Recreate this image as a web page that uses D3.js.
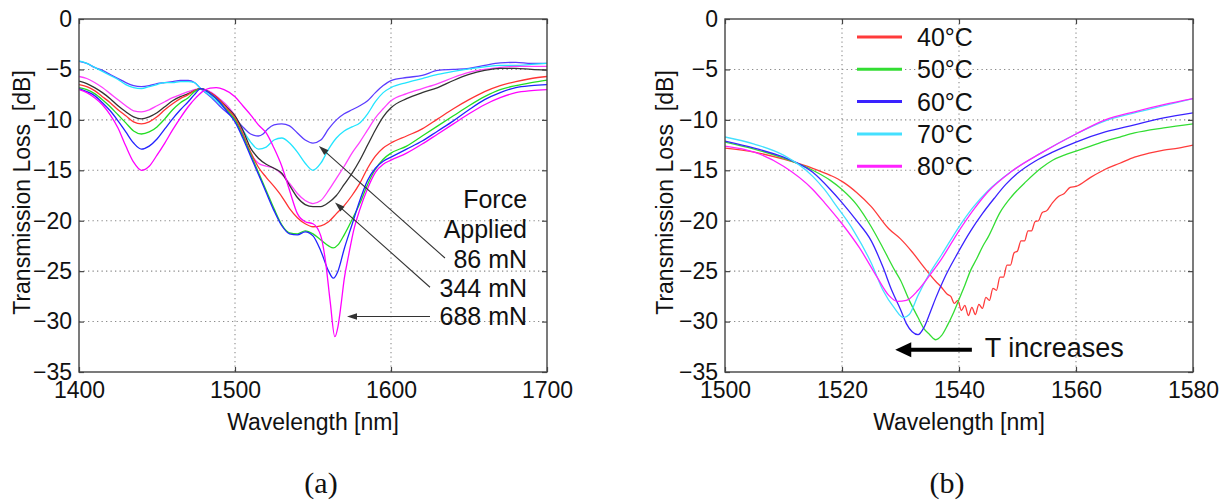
<!DOCTYPE html>
<html>
<head>
<meta charset="utf-8">
<script src="https://cdn.jsdelivr.net/npm/d3@7"></script>
<style>
  body { margin: 0; background: #fff; }
  svg { display: block; font-family: "Liberation Sans", Arial, Helvetica, sans-serif; }
</style>
</head>
<body>
<svg id="fig" width="1229" height="504"></svg>
<script>
// ---------- Panel (a): transmission loss vs wavelength under applied force ----------
const forceTicksX = [1400, 1500, 1600, 1700];
const lossTicksY = [0, -5, -10, -15, -20, -25, -30, -35];

// [wavelength nm, loss dB]
const force86 = [[1400,-4.2],[1405,-4.4],[1410,-4.8],[1415,-5.1],[1420,-5.5],[1425,-5.9],[1430,-6.3],[1435,-6.6],[1440,-6.7],[1445,-6.6],[1450,-6.4],[1455,-6.3],[1460,-6.2],[1465,-6.1],[1470,-6.1],[1474,-6.3],[1478,-6.9],[1485,-7.8],[1490,-8.6],[1495,-9.3],[1500,-9.9],[1505,-10.7],[1510,-11.4],[1515,-11.6],[1518,-11.4],[1521,-10.9],[1525,-10.5],[1530,-10.4],[1535,-10.6],[1540,-11.3],[1545,-12.0],[1550,-12.3],[1555,-12.0],[1560,-10.9],[1565,-10.0],[1570,-9.4],[1575,-9.0],[1580,-8.6],[1585,-8.1],[1590,-7.3],[1595,-6.6],[1600,-6.1],[1610,-5.8],[1620,-5.6],[1630,-5.1],[1640,-5.0],[1650,-4.9],[1660,-4.6],[1670,-4.35],[1680,-4.3],[1690,-4.4],[1700,-4.4]];
const force172 = [[1400,-4.15],[1405,-4.4],[1410,-4.8],[1415,-5.2],[1420,-5.6],[1425,-6.0],[1430,-6.5],[1435,-6.8],[1440,-6.9],[1445,-6.7],[1450,-6.5],[1455,-6.3],[1460,-6.3],[1465,-6.2],[1470,-6.2],[1474,-6.3],[1478,-6.9],[1485,-7.7],[1490,-8.4],[1495,-9.1],[1500,-9.7],[1505,-11.0],[1510,-12.2],[1515,-12.9],[1520,-12.7],[1525,-12.0],[1530,-11.8],[1535,-12.3],[1540,-13.2],[1545,-14.3],[1550,-15.0],[1555,-14.3],[1560,-12.9],[1565,-11.8],[1570,-11.1],[1575,-10.7],[1580,-10.3],[1585,-9.4],[1590,-8.2],[1595,-7.3],[1600,-6.8],[1610,-6.3],[1620,-5.9],[1630,-5.5],[1640,-5.2],[1650,-4.95],[1660,-4.75],[1670,-4.6],[1680,-4.6],[1690,-4.5],[1700,-4.4]];
const force258 = [[1400,-5.7],[1405,-5.9],[1410,-6.3],[1415,-6.8],[1420,-7.4],[1425,-8.0],[1430,-8.6],[1435,-9.1],[1440,-9.2],[1445,-9.0],[1450,-8.6],[1455,-8.2],[1460,-7.8],[1465,-7.5],[1470,-7.2],[1474,-7.0],[1478,-6.9],[1485,-7.3],[1490,-7.9],[1495,-8.6],[1500,-9.6],[1505,-11.3],[1510,-13.3],[1515,-14.3],[1520,-14.6],[1525,-14.8],[1530,-15.4],[1535,-16.3],[1540,-17.3],[1545,-18.0],[1550,-18.3],[1555,-18.0],[1560,-17.0],[1565,-15.8],[1570,-14.6],[1575,-13.3],[1580,-12.2],[1585,-11.0],[1590,-9.8],[1595,-8.9],[1600,-8.1],[1610,-7.4],[1620,-6.9],[1630,-6.4],[1640,-5.8],[1650,-5.3],[1660,-5.0],[1670,-4.8],[1680,-4.7],[1690,-4.7],[1700,-4.7]];
const force344 = [[1400,-6.15],[1405,-6.4],[1410,-6.8],[1415,-7.3],[1420,-7.9],[1425,-8.6],[1430,-9.2],[1435,-9.7],[1440,-9.9],[1445,-9.7],[1450,-9.3],[1455,-8.7],[1460,-8.1],[1465,-7.7],[1470,-7.4],[1474,-7.1],[1478,-6.9],[1485,-7.4],[1490,-8.0],[1495,-8.8],[1500,-9.6],[1505,-11.0],[1510,-12.8],[1515,-13.8],[1520,-14.4],[1525,-14.8],[1530,-15.3],[1535,-16.5],[1540,-17.7],[1545,-18.4],[1550,-18.6],[1555,-18.6],[1560,-18.2],[1565,-17.5],[1570,-16.4],[1575,-15.3],[1580,-14.0],[1585,-12.5],[1590,-11.0],[1595,-9.7],[1600,-8.8],[1610,-7.9],[1620,-7.3],[1630,-6.8],[1640,-6.1],[1650,-5.5],[1660,-5.1],[1670,-4.9],[1680,-4.9],[1690,-5.0],[1700,-5.06]];
const force430 = [[1400,-6.5],[1405,-6.7],[1410,-7.1],[1415,-7.7],[1420,-8.3],[1425,-9.0],[1430,-9.6],[1435,-10.2],[1440,-10.4],[1445,-10.2],[1450,-9.7],[1455,-9.0],[1460,-8.4],[1465,-7.9],[1470,-7.5],[1474,-7.1],[1478,-6.9],[1485,-7.4],[1490,-8.0],[1495,-8.9],[1500,-9.8],[1505,-11.4],[1510,-13.2],[1515,-14.7],[1520,-15.7],[1525,-16.6],[1530,-17.6],[1535,-18.8],[1540,-19.7],[1545,-20.3],[1550,-20.6],[1555,-20.5],[1560,-20.1],[1565,-19.3],[1570,-18.5],[1575,-17.5],[1580,-16.3],[1585,-14.8],[1590,-13.6],[1595,-12.8],[1600,-12.3],[1610,-11.6],[1620,-10.9],[1630,-9.9],[1640,-8.9],[1650,-8.0],[1660,-7.2],[1670,-6.6],[1680,-6.2],[1690,-5.9],[1700,-5.7]];
const force516 = [[1400,-6.8],[1405,-7.0],[1410,-7.4],[1415,-8.0],[1420,-8.7],[1425,-9.5],[1430,-10.3],[1435,-11.1],[1440,-11.4],[1445,-11.2],[1450,-10.7],[1455,-9.9],[1460,-9.0],[1465,-8.3],[1470,-7.8],[1474,-7.2],[1478,-6.9],[1485,-7.5],[1490,-8.2],[1495,-9.1],[1500,-10.0],[1505,-11.6],[1510,-13.4],[1515,-15.2],[1520,-17.0],[1525,-18.8],[1530,-20.4],[1535,-21.2],[1540,-21.3],[1545,-21.0],[1550,-21.3],[1555,-21.9],[1560,-22.5],[1563,-22.7],[1566,-22.4],[1570,-21.4],[1575,-19.9],[1580,-18.3],[1585,-16.4],[1590,-14.9],[1595,-13.9],[1600,-13.3],[1610,-12.6],[1620,-11.6],[1630,-10.6],[1640,-9.6],[1650,-8.6],[1660,-7.7],[1670,-7.0],[1680,-6.6],[1690,-6.3],[1700,-6.05]];
const force602 = [[1400,-6.9],[1405,-7.2],[1410,-7.6],[1415,-8.3],[1420,-9.1],[1425,-10.1],[1430,-11.2],[1435,-12.3],[1440,-12.9],[1445,-12.6],[1450,-11.9],[1455,-10.9],[1460,-9.9],[1465,-9.0],[1470,-8.2],[1474,-7.5],[1478,-6.9],[1485,-7.5],[1490,-8.2],[1495,-9.2],[1500,-10.2],[1505,-11.8],[1510,-13.6],[1515,-15.4],[1520,-17.2],[1525,-19.0],[1530,-20.5],[1535,-21.3],[1540,-21.4],[1545,-21.1],[1550,-21.5],[1555,-23.0],[1560,-25.0],[1563,-25.7],[1566,-25.0],[1570,-22.8],[1575,-20.4],[1580,-18.0],[1585,-16.0],[1590,-14.8],[1595,-14.1],[1600,-13.7],[1610,-12.9],[1620,-12.1],[1630,-11.1],[1640,-10.1],[1650,-9.0],[1660,-8.0],[1670,-7.3],[1680,-6.8],[1690,-6.6],[1700,-6.5]];
const force688 = [[1400,-7.0],[1405,-7.3],[1410,-7.8],[1415,-8.5],[1420,-9.5],[1425,-10.8],[1430,-12.6],[1435,-14.2],[1440,-15.0],[1445,-14.6],[1450,-13.5],[1455,-12.3],[1460,-11.0],[1465,-9.8],[1470,-8.7],[1475,-7.8],[1480,-7.1],[1484,-6.85],[1488,-6.8],[1493,-7.0],[1500,-7.7],[1505,-8.6],[1510,-9.5],[1515,-10.5],[1520,-11.3],[1525,-12.8],[1530,-14.6],[1535,-17.0],[1540,-19.3],[1545,-20.1],[1550,-20.3],[1555,-21.5],[1558,-24.0],[1561,-28.0],[1564,-31.5],[1566,-30.5],[1568,-28.3],[1570,-25.8],[1573,-23.3],[1576,-21.0],[1580,-18.9],[1585,-16.8],[1590,-15.2],[1595,-14.4],[1600,-14.0],[1610,-13.3],[1620,-12.4],[1630,-11.4],[1640,-10.4],[1650,-9.4],[1660,-8.5],[1670,-7.8],[1680,-7.3],[1690,-7.1],[1700,-7.0]];

const forceSeries = [force86, force172, force258, force344, force430, force516, force602, force688];
const forceColors = ["#5b3cff", "#22e5ff", "#ff40ff", "#333333", "#ff3333", "#22dd22", "#2222ff", "#ff00ff"];
const forceLabels = ["Force", "Applied", "86 mN", "344 mN", "688 mN"];

// ---------- Panel (b): transmission loss vs wavelength at several temperatures ----------
const tempTicksX = [1500, 1520, 1540, 1560, 1580];

const temp40 = [[1500,-12.8],[1505,-13.2],[1510,-13.9],[1515,-14.8],[1518,-15.5],[1520,-16.1],[1522.5,-17.2],[1525,-18.6],[1528,-20.8],[1530,-21.8],[1532,-23.1],[1534,-24.6],[1536,-26.0],[1537,-26.6],[1538,-27.3],[1538.6,-27.5],[1539.2,-28.2],[1539.8,-27.9],[1540.4,-28.9],[1541,-28.4],[1541.6,-29.4],[1542.2,-28.6],[1542.8,-29.3],[1543.4,-28.3],[1544,-28.7],[1544.6,-27.6],[1545.2,-27.9],[1545.8,-26.7],[1546.4,-26.9],[1547,-25.6],[1547.6,-25.6],[1548.2,-24.4],[1548.8,-24.4],[1549.4,-23.2],[1550,-23.0],[1550.6,-22.0],[1551.2,-22.0],[1551.8,-21.0],[1552.4,-21.0],[1553,-20.1],[1553.6,-20.0],[1554.2,-19.2],[1555,-19.0],[1556,-18.2],[1557,-17.6],[1558,-17.3],[1559,-16.7],[1560,-16.6],[1562.5,-15.7],[1565,-14.9],[1567.5,-14.3],[1570,-13.7],[1572.5,-13.3],[1575,-13.0],[1577.5,-12.8],[1580,-12.5]];
const temp50 = [[1500,-12.2],[1505,-12.9],[1510,-13.8],[1515,-15.0],[1518,-16.0],[1520,-16.9],[1522.5,-18.4],[1525,-20.6],[1527,-22.7],[1529,-24.9],[1530,-25.9],[1531.5,-27.9],[1533,-29.6],[1534,-30.7],[1535,-31.3],[1536,-31.8],[1537,-31.4],[1538,-30.4],[1539,-29.2],[1540,-27.8],[1541,-26.4],[1542,-24.9],[1543,-23.8],[1544,-22.6],[1545,-21.6],[1547,-19.2],[1549,-17.6],[1551.5,-16.1],[1554,-14.8],[1556,-14.0],[1558,-13.5],[1560,-13.1],[1562.5,-12.6],[1565,-12.1],[1567.5,-11.7],[1570,-11.3],[1575,-10.8],[1580,-10.4]];
const temp60 = [[1500,-12.1],[1505,-12.8],[1510,-13.7],[1515,-15.2],[1518,-16.9],[1520,-18.2],[1522.5,-20.0],[1525,-22.0],[1527,-24.6],[1528.5,-26.9],[1530,-28.8],[1531,-30.2],[1532,-31.0],[1533,-31.3],[1534,-30.6],[1535,-29.2],[1536,-27.7],[1537.5,-25.7],[1539.5,-23.5],[1542,-21.0],[1544,-19.3],[1546,-17.8],[1548,-16.4],[1550,-15.3],[1553,-14.1],[1556,-13.2],[1560,-12.2],[1565,-11.2],[1570,-10.5],[1575,-9.8],[1580,-9.3]];
const temp70 = [[1500,-11.7],[1505,-12.4],[1510,-13.5],[1515,-15.6],[1517,-16.9],[1519,-18.5],[1522,-21.0],[1525,-24.2],[1527,-26.9],[1529,-28.7],[1530.5,-29.6],[1531.5,-29.3],[1533,-27.4],[1535,-25.2],[1537,-23.4],[1540,-20.6],[1542.5,-18.6],[1545,-17.0],[1549,-15.1],[1554,-13.3],[1560,-11.4],[1565,-10.1],[1570,-9.3],[1575,-8.6],[1580,-7.9]];
const temp80 = [[1500,-12.6],[1505,-13.2],[1510,-14.6],[1515,-16.9],[1517,-18.2],[1520,-20.3],[1523,-22.7],[1526,-25.6],[1528,-27.4],[1529.5,-28.0],[1531,-27.9],[1533,-26.9],[1535,-25.4],[1537,-23.8],[1540,-21.0],[1542.5,-18.9],[1545,-17.1],[1549,-15.1],[1554,-13.3],[1560,-11.4],[1565,-10.0],[1570,-9.2],[1575,-8.5],[1580,-7.9]];

const tempSeries = [temp40, temp50, temp60, temp70, temp80];
const tempColors = ["#ff3b3b", "#33dd33", "#3a22ff", "#44e0ff", "#ff22ff"];
const tempLabels = ["40\u00B0C", "50\u00B0C", "60\u00B0C", "70\u00B0C", "80\u00B0C"];

// ---------- drawing ----------
const svg = d3.select("#fig");
svg.append("rect").attr("width", 1229).attr("height", 504).attr("fill", "#fff");

const TICK_FONT = 23;
const PLOT_H = 353, PLOT_W = 468, PLOT_TOP = 19;

function drawArrow(g, x1, y1, x2, y2, opt) {
  // shaft from (x1,y1) to tip (x2,y2) with a filled triangular head
  const dx = x2 - x1, dy = y2 - y1, len = Math.hypot(dx, dy);
  const ux = dx / len, uy = dy / len;
  const bx = x2 - ux * opt.head, by = y2 - uy * opt.head;
  g.append("line")
    .attr("x1", x1).attr("y1", y1).attr("x2", bx + ux * 1).attr("y2", by + uy * 1)
    .attr("stroke", opt.color).attr("stroke-width", opt.width);
  const px = -uy, py = ux;
  g.append("path")
    .attr("d", `M${x2},${y2}L${bx + px * opt.half},${by + py * opt.half}L${bx - px * opt.half},${by - py * opt.half}Z`)
    .attr("fill", opt.color);
}

function drawPanel(cfg) {
  const g = svg.append("g").attr("transform", `translate(${cfg.left},${PLOT_TOP})`);
  const x = d3.scaleLinear().domain(cfg.xDomain).range([0, PLOT_W]);
  const y = d3.scaleLinear().domain([0, -35]).range([0, PLOT_H]);

  // dotted grid
  const grid = g.append("g").attr("stroke", "#8a8a8a").attr("stroke-width", 1.1)
    .attr("stroke-dasharray", "1.3,3.2");
  cfg.xTicks.slice(1, -1).forEach(v => grid.append("line")
    .attr("x1", x(v)).attr("x2", x(v)).attr("y1", 0).attr("y2", PLOT_H));
  lossTicksY.slice(1, -1).forEach(v => grid.append("line")
    .attr("x1", 0).attr("x2", PLOT_W).attr("y1", y(v)).attr("y2", y(v)));

  // data curves
  const clipId = "clip-" + cfg.name;
  g.append("clipPath").attr("id", clipId).append("rect")
    .attr("width", PLOT_W).attr("height", PLOT_H);
  const line = d3.line().x(d => x(d[0])).y(d => y(d[1])).curve(d3.curveMonotoneX);
  const curves = g.append("g").attr("clip-path", `url(#${clipId})`);
  cfg.series.forEach((s, i) => curves.append("path")
    .attr("d", line(s)).attr("fill", "none")
    .attr("stroke", cfg.colors[i]).attr("stroke-width", 1.3)
    .attr("stroke-linejoin", "round"));

  // axes with inward ticks on all four sides
  const styleAxis = sel => {
    sel.select(".domain").remove();
    sel.selectAll(".tick line").attr("stroke", "#444").attr("stroke-width", 1.2);
    sel.selectAll(".tick text").attr("fill", "#111").attr("font-size", TICK_FONT)
      .attr("font-family", "Liberation Sans, Arial, sans-serif");
  };
  g.append("g").attr("transform", `translate(0,${PLOT_H})`)
    .call(d3.axisBottom(x).tickValues(cfg.xTicks).tickFormat(d3.format("d")).tickSizeInner(-5).tickSizeOuter(0).tickPadding(10))
    .call(styleAxis);
  g.append("g")
    .call(d3.axisLeft(y).tickValues(lossTicksY).tickFormat(d3.format("d")).tickSizeInner(-5).tickSizeOuter(0).tickPadding(7))
    .call(styleAxis);
  g.append("g")
    .call(d3.axisTop(x).tickValues(cfg.xTicks).tickFormat("").tickSizeInner(-5).tickSizeOuter(0))
    .call(styleAxis);
  g.append("g").attr("transform", `translate(${PLOT_W},0)`)
    .call(d3.axisRight(y).tickValues(lossTicksY).tickFormat("").tickSizeInner(-5).tickSizeOuter(0))
    .call(styleAxis);

  // frame
  g.append("rect").attr("width", PLOT_W).attr("height", PLOT_H)
    .attr("fill", "none").attr("stroke", "#444").attr("stroke-width", 1.4);

  // axis titles
  g.append("text").attr("x", PLOT_W / 2).attr("y", 411).attr("text-anchor", "middle")
    .attr("font-size", 23).attr("fill", "#111").text("Wavelength [nm]");
  g.append("text")
    .attr("transform", `translate(${cfg.yTitleX},${PLOT_H / 2 - 3}) rotate(-90)`)
    .attr("text-anchor", "middle").attr("font-size", 23).attr("fill", "#111")
    .attr("xml:space", "preserve").text("Transmission Loss  [dB]");

  // panel caption
  g.append("text").attr("x", cfg.captionX).attr("y", 474).attr("text-anchor", "middle")
    .attr("font-family", "Liberation Serif, Times New Roman, serif").attr("font-size", 30)
    .attr("fill", "#111").text(cfg.caption);

  return { g, x, y };
}

// panel (a)
const A = drawPanel({
  name: "a", left: 79, xDomain: [1400, 1700], xTicks: forceTicksX,
  series: forceSeries, colors: forceColors, yTitleX: -49, caption: "(a)", captionX: 242
});
{
  const { g, x, y } = A;
  const tx = x(1687.2);
  const rows = [-18.74, -21.7, -24.7, -27.6, -30.3];
  forceLabels.forEach((t, i) => g.append("text")
    .attr("x", tx).attr("y", y(rows[i])).attr("text-anchor", "end")
    .attr("font-size", 25).attr("fill", "#111").text(t));
  const thin = { color: "#333", width: 1.1, head: 10, half: 3.2 };
  drawArrow(g, x(1634.6), y(-23.7), x(1553.8), y(-12.6), thin);
  drawArrow(g, x(1625), y(-26.6), x(1564.1), y(-18.2), thin);
  drawArrow(g, x(1625), y(-29.5), x(1571.8), y(-29.5), thin);
}

// panel (b)
const B = drawPanel({
  name: "b", left: 725, xDomain: [1500, 1580], xTicks: tempTicksX,
  series: tempSeries, colors: tempColors, yTitleX: -52, caption: "(b)", captionX: 222
});
{
  const { g, x, y } = B;
  const legend = g.append("g").attr("transform", "translate(132,18)");
  tempLabels.forEach((t, i) => {
    const row = legend.append("g").attr("transform", `translate(0,${i * 32.3})`);
    row.append("line").attr("x1", 0).attr("x2", 45).attr("y1", 0).attr("y2", 0)
      .attr("stroke", tempColors[i]).attr("stroke-width", 3);
    row.append("text").attr("x", 60).attr("y", 9).attr("font-size", 25)
      .attr("fill", "#111").text(t);
  });
  drawArrow(g, x(1542.2), y(-32.8), x(1529.1), y(-32.8),
    { color: "#000", width: 4, head: 16, half: 7.5 });
  g.append("text").attr("x", x(1544.4)).attr("y", y(-33.5))
    .attr("font-size", 27).attr("fill", "#111").text("T increases");
}
</script>
</body>
</html>
